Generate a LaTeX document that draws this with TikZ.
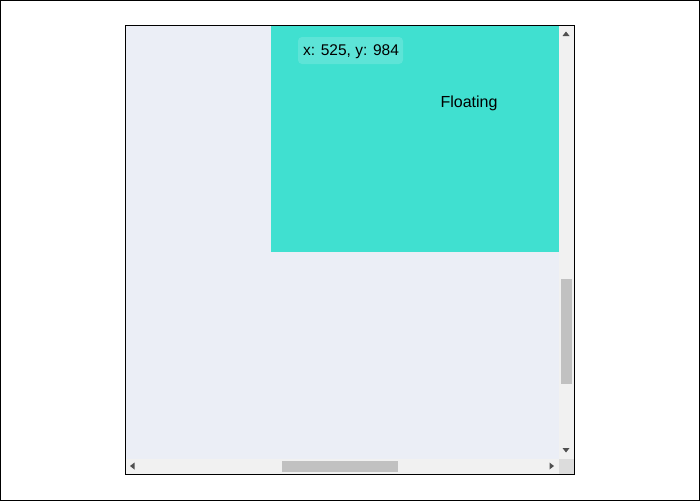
\documentclass[tikz,border=0pt]{standalone}
\usepackage{fontspec}
\setmainfont{Liberation Sans}
\usepackage{tikz}

\definecolor{pane}{HTML}{EBEEF6}
\definecolor{turq}{HTML}{40E0D0}
\definecolor{tip}{HTML}{5DE4D7}
\definecolor{track}{HTML}{F1F1F1}
\definecolor{thumb}{HTML}{C1C1C1}
\definecolor{corner}{HTML}{DCDCDC}
\definecolor{arrowgrey}{HTML}{505050}

\begin{document}
\begin{tikzpicture}[x=1pt,y=-1pt,font=\fontsize{16}{19}\selectfont]
		%\node[draw,options] (nodeName) at (x,y) {text};
		\useasboundingbox (0,0) rectangle (700,501);
		\draw[black] (0.5,0.5) rectangle (699.5,500.5);
		\fill[pane] (125,25) rectangle (575,475);
		\fill[turq] (271,25) rectangle (559,252);
		\node[fill=tip,rounded corners=4pt,minimum width=105pt,minimum height=27pt,inner sep=0pt] (Coords) at (350.5,50.5) {};
		\node[font=\fontsize{15.5}{19}\selectfont] (CoordsText) at (351,51.5) {x: 525, y: 984};
		\node (Floating) at (469,103) {Floating};
		%scrollbars
		\fill[track] (559,25) rectangle (575,459);
		\fill[track] (125,459) rectangle (559,475);
		\fill[corner] (559,459) rectangle (575,475);
		\fill[thumb] (561,279) rectangle (572,384);
		\fill[thumb] (282,461) rectangle (398,472);
		\fill[arrowgrey] (562.5,36) -- (569.5,36) -- (566,31.5) -- cycle;
		\fill[arrowgrey] (562.5,448) -- (569.5,448) -- (566,452.5) -- cycle;
		\fill[arrowgrey] (134.5,462.5) -- (134.5,469.5) -- (130,466) -- cycle;
		\fill[arrowgrey] (549.5,462.5) -- (549.5,469.5) -- (554,466) -- cycle;
		\draw[black] (125.5,25.5) rectangle (574.5,474.5);
	\end{tikzpicture}
\end{document}
